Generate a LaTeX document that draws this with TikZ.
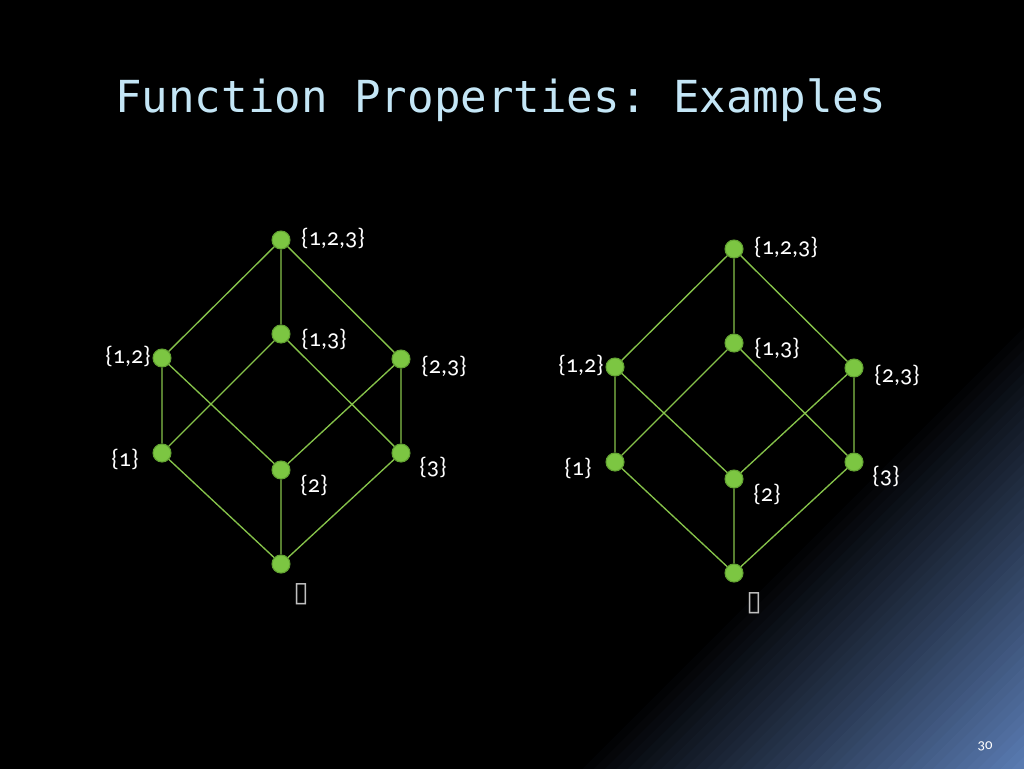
\documentclass[tikz,border=0pt]{standalone}
\usepackage{fontspec}
\setmainfont{Carlito}[Numbers=OldStyle]
\newfontfamily\titlefont{DejaVu Sans Mono}
\newfontfamily\symfont{DejaVu Sans}
\frenchspacing
\definecolor{bgblue}{HTML}{5B7DB5}
\definecolor{titleblue}{HTML}{C4E6F6}
\definecolor{dotgreen}{HTML}{7CC642}
\definecolor{dotedge}{HTML}{62A232}
\definecolor{linegreen}{HTML}{86C34A}
\definecolor{boxgray}{HTML}{BFBFBF}
\newcommand\lattice[2]{%
\begin{scope}[shift={#2}]
  \node[dot] (#1top) at (281,240) {};
  \node[dot] (#1a) at (281,334) {};
  \node[dot] (#1b) at (162,358) {};
  \node[dot] (#1c) at (401,359) {};
  \node[dot] (#1d) at (162,453) {};
  \node[dot] (#1e) at (401,453) {};
  \node[dot] (#1f) at (281,470) {};
  \node[dot] (#1bot) at (281,564) {};
  \path[edge] (#1top) -- (#1b) (#1top) -- (#1a) (#1top) -- (#1c)
    (#1b) -- (#1d) (#1b) -- (#1f)
    (#1a) -- (#1d) (#1a) -- (#1e)
    (#1c) -- (#1f) (#1c) -- (#1e)
    (#1d) -- (#1bot) (#1f) -- (#1bot) (#1e) -- (#1bot);
  \node[lab] (#1ltop) at (333,238) {\{1,2,3\}};
  \node[lab] (#1la) at (324,339) {\{1,3\}};
  \node[lab] (#1lb) at (128,356) {\{1,2\}};
  \node[lab] (#1lc) at (444,366) {\{2,3\}};
  \node[lab] (#1ld) at (125,459) {\{1\}};
  \node[lab] (#1le) at (433,467) {\{3\}};
  \node[lab] (#1lf) at (314,485) {\{2\}};
  \node[boxlab] (#1lbot) at (301,594) {▯};
\end{scope}}
\begin{document}
\begin{tikzpicture}[x=0.75pt,y=-0.75pt,
  dot/.style={circle, fill=dotgreen, draw=dotedge, line width=0.8pt, minimum size=13.5pt, inner sep=0pt},
  edge/.style={draw=linegreen, line width=1pt},
  lab/.style={text=white, font=\fontsize{18}{21}\selectfont, inner sep=0pt},
  boxlab/.style={text=boxgray, font=\symfont\fontsize{21}{24}\selectfont, inner sep=0pt}]
\useasboundingbox (0,0) rectangle (1024,768);
\fill[black] (-20,-20) rectangle (1044,788);
\begin{scope}
  \clip (-20,-20) rectangle (1044,788);
  \foreach \k in {0,...,40} {
    \pgfmathsetmacro\a{1340+\k*11.3}
    \pgfmathsetmacro\p{\k*2.5}
    \fill[bgblue!\p!black] (\a-1000,1000) -- (\a+1000,-1000) -- (3000,-1000) -- (3000,1000) -- cycle;
  }
\end{scope}
\node[anchor=base west, text=titleblue, font=\titlefont\fontsize{33.1}{36}\selectfont, inner sep=0pt] (title) at (115,112) {Function Properties: Examples};
\lattice{L}{(0,0)}
\lattice{R}{(453,9)}
\node[text=white, font=\fontsize{11}{13}\selectfont, inner sep=0pt] (pagenum) at (985,746) {30};
\end{tikzpicture}
\end{document}
